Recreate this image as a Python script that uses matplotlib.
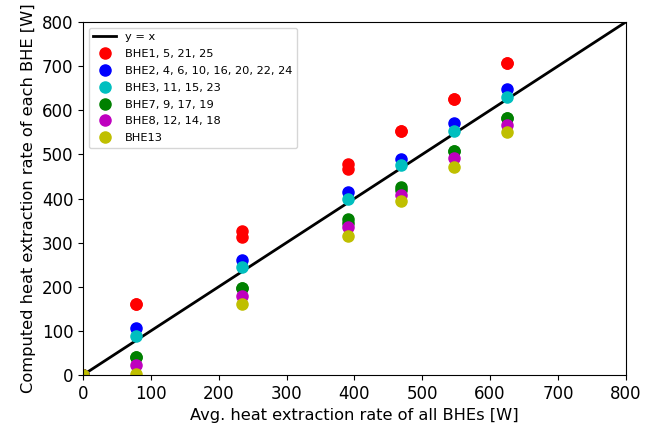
import matplotlib
matplotlib.use("Agg")
import matplotlib.pyplot as plt
import numpy as np

## average heat extraction rate (x) for each step
x_avg = [0, 78, 234, 391, 469, 547, 625]

## computed rate of each BHE group, one value per step
labels = ['BHE1, 5, 21, 25', 'BHE2, 4, 6, 10, 16, 20, 22, 24',
          'BHE3, 11, 15, 23', 'BHE7, 9, 17, 19', 'BHE8, 12, 14, 18', 'BHE13']
colors = ['r', 'b', 'c', 'g', 'm', 'y']

bhe1 = [0, 161, 326, 478, 553, 626, 706]
bhe1_b = [0, 161, 313, 466, 553, 626, 706]
bhe2 = [0, 106, 260, 414, 490, 570, 648]
bhe3 = [0, 88, 244, 398, 476, 553, 630]
bhe7 = [0, 41, 198, 353, 425, 507, 582]
bhe7_b = [0, 41, 198, 345, 420, 507, 582]
bhe8 = [0, 22, 180, 336, 409, 491, 567]
bhe13 = [0, 3, 161, 316, 394, 472, 550]

series = [[bhe1, bhe1_b], [bhe2], [bhe3], [bhe7, bhe7_b], [bhe8], [bhe13]]

fig = plt.figure(figsize=(6.56, 4.28), dpi=100)
ax = fig.add_axes([0.1265, 0.1238, 0.8275, 0.8248])

ax.plot([0, 800], [0, 800], 'k-', lw=2, label='y = x')
for vals, lab, c in zip(series, labels, colors):
    for i, y in enumerate(vals):
        ax.plot(x_avg, y, 'o', color=c, ms=8, ls='none',
                label=lab if i == 0 else None)

ax.set_xlim(0, 800)
ax.set_ylim(0, 800)
ax.tick_params(labelsize=12)
ax.set_xlabel('Avg. heat extraction rate of all BHEs [W]', fontsize=11.7)
ax.set_ylabel('Computed heat extraction rate of each BHE [W]', fontsize=11.7)
ax.legend(loc='upper left', fontsize=8.2, numpoints=1, labelspacing=0.6)

fig.savefig('out.png', dpi=100)
